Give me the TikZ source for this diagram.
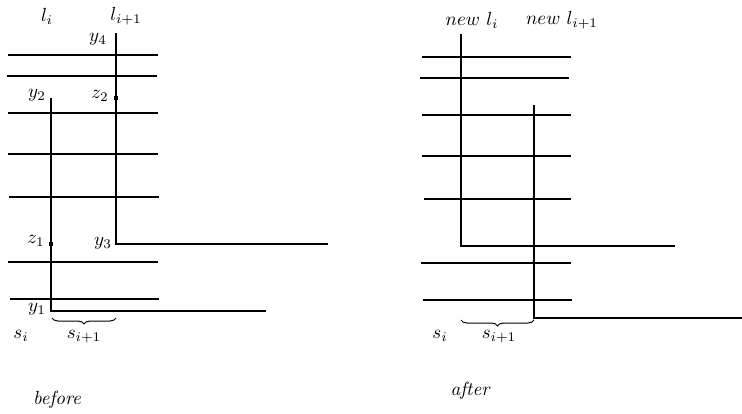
\documentclass[tikz,border=0pt]{standalone}
\usetikzlibrary{decorations.pathreplacing}
\begin{document}
\begin{tikzpicture}[x=1pt,y=-1pt,
  wire/.style={line width=1.2pt},
  lbl/.style={inner sep=0pt,scale=1.9},
  pin/.style={fill=black,minimum size=4pt,inner sep=0pt,rectangle},
  brc/.style={decorate,decoration={brace,mirror,amplitude=6pt},line width=1pt}]
\useasboundingbox (0,0) rectangle (742,414);
% ---------- before ----------
\foreach \yy/\xa/\xb in {55/8/158,76/7/157,113/8/158,154/8/158,197/9/159,262/8/158,299/10/159}
  \draw[wire] (\xa,\yy) -- (\xb,\yy);
\coordinate (a1) at (116,33);
\coordinate (a2) at (116,244);
\coordinate (a3) at (328,244);
\draw[wire] (a1) -- (a2) -- (a3);
\coordinate (b1) at (51,98);
\coordinate (b2) at (51,311);
\coordinate (b3) at (266,311);
\draw[wire] (b1) -- (b2) -- (b3);
\node[pin] (z2d) at (116,98) {};
\node[pin] (z1d) at (51,244) {};
\node[lbl] (li) at (47,16) {$l_i$};
\node[lbl] (li1) at (126,16) {$l_{i+1}$};
\node[lbl] (y4) at (98,39) {$y_4$};
\node[lbl] (y2) at (37,95) {$y_2$};
\node[lbl] (z2) at (100,96) {$z_2$};
\node[lbl] (z1) at (36,241) {$z_1$};
\node[lbl] (y3) at (103,243) {$y_3$};
\node[lbl] (y1) at (37,309) {$y_1$};
\node[lbl] (si) at (21,336) {$s_i$};
\node[lbl] (si1) at (84,337) {$s_{i+1}$};
\coordinate (br1) at (52,318);
\coordinate (br2) at (116,318);
\draw[brc] (br1) -- (br2);
\node[lbl] (before) at (57,400) {\itshape before};
% ---------- after ----------
\foreach \yy/\xa/\xb in {57/422/571,78/420/569,115/422/571,156/422/571,199/424/571,263/421/571,300/423/572}
  \draw[wire] (\xa,\yy) -- (\xb,\yy);
\coordinate (c1) at (461,34);
\coordinate (c2) at (461,246);
\coordinate (c3) at (675,246);
\draw[wire] (c1) -- (c2) -- (c3);
\coordinate (d1) at (534,105);
\coordinate (d2) at (534,318);
\coordinate (d3) at (742,318);
\draw[wire] (d1) -- (d2) -- (d3);
\node[lbl] (nli) at (472,20) {$new\ l_i$};
\node[lbl] (nli1) at (562,20) {$new\ l_{i+1}$};
\node[lbl] (si2) at (440,336) {$s_i$};
\node[lbl] (si12) at (499,337) {$s_{i+1}$};
\coordinate (br3) at (461,320);
\coordinate (br4) at (534,320);
\draw[brc] (br3) -- (br4);
\node[lbl] (after) at (470,391) {\itshape after};
\end{tikzpicture}
\end{document}
